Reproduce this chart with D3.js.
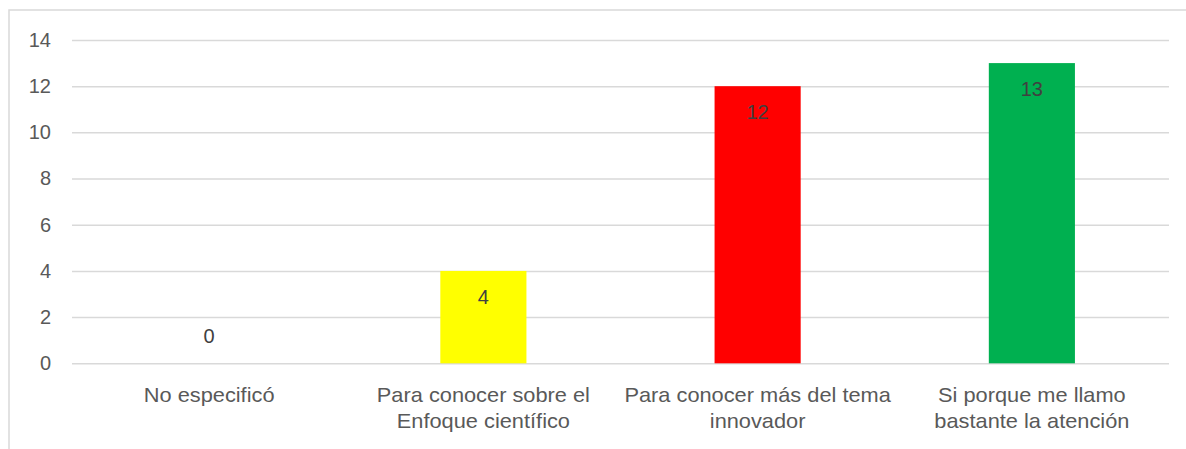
<!DOCTYPE html>
<html><head><meta charset="utf-8">
<script src="https://cdn.jsdelivr.net/npm/d3@7"></script>
<style>
html,body{margin:0;padding:0;background:#fff;}
svg{display:block;}
text{font-family:"Liberation Sans",Arial,sans-serif;fill:#595959;}
</style></head>
<body>
<svg id="chart" width="1186" height="449"></svg>
<script>
const categories = ["No especificó","Para conocer sobre el Enfoque científico","Para conocer más del tema innovador","Si porque me llamo bastante la atención"];
const categoryLines = [["No especificó"],["Para conocer sobre el","Enfoque científico"],["Para conocer más del tema","innovador"],["Si porque me llamo","bastante la atención"]];
const values = [0,4,12,13];
const barColors = ["#FFFF00","#FFFF00","#FF0000","#00B050"];
const yTicks = [0,2,4,6,8,10,12,14];

const svg = d3.select("#chart");
// outer frame
svg.append("rect").attr("x",9).attr("y",10).attr("width",1200).attr("height",500)
  .attr("fill","none").attr("stroke","#d9d9d9").attr("stroke-width",1.5);

const plotLeft = 72, plotRight = 1169, plotTop = 40, plotBottom = 363.3;
const x = d3.scaleBand().domain(categories).range([plotLeft,plotRight]).paddingInner(0.686).paddingOuter(0.343);
const y = d3.scaleLinear().domain([0,14]).range([plotBottom,plotTop]);

// grid lines
const yAxis = d3.axisLeft(y).tickValues(yTicks).tickSize(-(plotRight-plotLeft)).tickPadding(21).tickFormat(d3.format("d"));
const gy = svg.append("g").attr("transform",`translate(${plotLeft},0)`).call(yAxis);
gy.select(".domain").remove();
gy.selectAll(".tick line").attr("stroke","#d9d9d9").attr("stroke-width",1.5);
gy.selectAll(".tick text").attr("font-size",20).attr("fill","#595959")
  .style("font-family","'Liberation Sans',Arial,sans-serif");

// bars
svg.append("g").selectAll("rect").data(categories).join("rect")
  .attr("x",d=>x(d)).attr("width",x.bandwidth())
  .attr("y",(d,i)=>y(values[i])).attr("height",(d,i)=>y(0)-y(values[i]))
  .attr("fill",(d,i)=>barColors[i]);

// value labels
svg.append("g").selectAll("text").data(categories).join("text")
  .attr("x",d=>x(d)+x.bandwidth()/2)
  .attr("y",(d,i)=>values[i]>0 ? y(values[i])+26 : y(0)-27)
  .attr("dominant-baseline","central")
  .attr("text-anchor","middle").attr("font-size",20).style("fill","#404040")
  .text((d,i)=>values[i]);

// category labels
const xAxis = d3.axisBottom(x).tickSize(0).tickFormat("");
const gx = svg.append("g").attr("transform",`translate(0,${plotBottom})`).call(xAxis);
gx.select(".domain").remove();
gx.selectAll(".tick").each(function(d,i){
  const t = d3.select(this).append("text").attr("text-anchor","middle")
    .attr("font-size",20).style("fill","#595959")
    .attr("transform","scale(1.09,1)");
  categoryLines[i].forEach((ln,j)=>{
    t.append("tspan").attr("x",0).attr("y",39 + j*26).text(ln);
  });
});
</script>
</body></html>
